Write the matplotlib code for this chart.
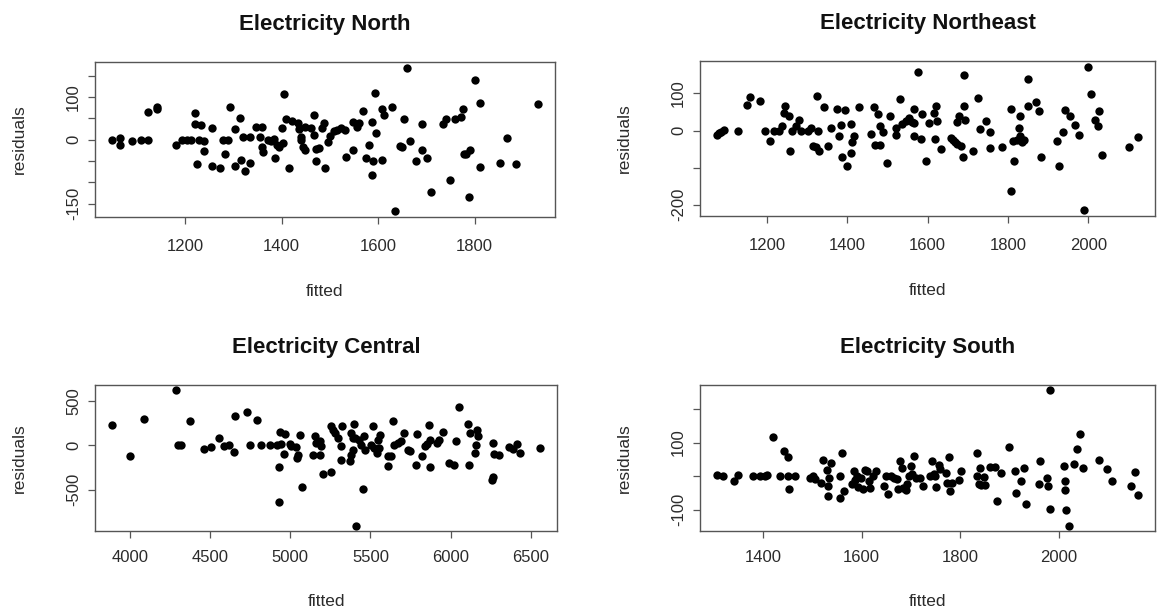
import matplotlib
matplotlib.use('Agg')
import matplotlib.pyplot as plt

plt.rcParams['font.family'] = ['Liberation Sans', 'DejaVu Sans']

# Electricity North
north_fitted = [1049, 1065, 1065, 1090, 1109, 1124, 1124, 1142, 1142, 1181, 1194, 1205, 1213, 1221, 1221,
                1225, 1229, 1234, 1240, 1240, 1256, 1256, 1273, 1279, 1283, 1290, 1293, 1304, 1304, 1315,
                1316, 1320, 1324, 1335, 1335, 1348, 1356, 1360, 1360, 1362, 1371, 1379, 1385, 1386, 1390,
                1394, 1400, 1404, 1406, 1410, 1415, 1421, 1434, 1437, 1441, 1441, 1445, 1449, 1449, 1460,
                1467, 1468, 1472, 1472, 1477, 1483, 1487, 1491, 1497, 1500, 1509, 1514, 1524, 1532, 1534,
                1549, 1549, 1557, 1561, 1568, 1575, 1582, 1588, 1588, 1590, 1594, 1595, 1607, 1608, 1612,
                1629, 1634, 1646, 1649, 1653, 1659, 1665, 1678, 1690, 1690, 1702, 1709, 1734, 1740, 1748,
                1759, 1771, 1775, 1777, 1781, 1790, 1788, 1800, 1810, 1810, 1852, 1867, 1886, 1931]
north_resid = [0, 5, -13, -3, 0, 0, 66, 77, 72, -13, 0, 0, 0, 63, 36,
               -56, 0, 34, -2, -27, 27, -62, -66, 0, -33, 0, 77, 26, -62, 52,
               -48, 6, -73, 6, -54, 30, 6, 30, -17, -29, 0, -2, 2, -43, -13,
               -17, 28, -7, 108, 49, -66, 45, 40, 24, 6, 0, -17, 30, -23, 28,
               59, 10, -50, -21, -20, 28, 39, -66, -5, 8, 20, 23, 28, 23, -41,
               -25, 41, 30, 39, 67, -42, -13, 41, -82, -50, 109, 16, -48, 73, 59,
               77, -168, -15, -16, 48, 169, -3, -51, 37, -25, -43, -123, 37, 49, -94,
               49, 53, 72, -34, -33, -25, -134, 141, 86, -64, -55, 4, -56, 84]

# Electricity Northeast
northeast_fitted = [1075, 1081, 1086, 1093, 1127, 1151, 1157, 1182, 1194, 1207, 1218, 1230, 1238, 1245, 1242,
                    1254, 1258, 1261, 1272, 1279, 1285, 1303, 1310, 1314, 1323, 1325, 1327, 1330, 1343, 1352,
                    1359, 1373, 1379, 1384, 1386, 1395, 1400, 1410, 1410, 1412, 1417, 1428, 1458, 1466, 1469,
                    1476, 1482, 1482, 1489, 1498, 1506, 1521, 1522, 1531, 1537, 1546, 1554, 1561, 1565, 1567,
                    1565, 1576, 1583, 1587, 1597, 1603, 1615, 1619, 1620, 1623, 1634, 1658, 1664, 1668, 1674,
                    1674, 1677, 1682, 1687, 1691, 1691, 1693, 1712, 1724, 1731, 1745, 1754, 1755, 1785, 1807,
                    1807, 1813, 1815, 1822, 1827, 1830, 1831, 1834, 1839, 1849, 1849, 1870, 1876, 1881, 1921,
                    1927, 1936, 1942, 1954, 1968, 1977, 1988, 2000, 2006, 2017, 2024, 2027, 2035, 2100, 2124]
northeast_resid = [-12, -7, -3, 2, 0, 69, 90, 80, 0, -27, 0, 0, 13, 66, 47,
                   40, -54, 0, 13, 29, 0, 0, 6, -41, -45, 94, 0, -54, 64, -41,
                   8, 58, -16, 15, -72, 56, -95, 18, -61, -31, -16, 64, -9, 63, -38,
                   45, 13, -38, -5, -88, 39, 6, -12, 85, 17, 26, 33, 24, 20, -16,
                   58, 157, -22, 44, -81, 20, 48, -22, 67, 26, -50, -21, -25, -30, 24,
                   -37, 38, -43, -72, 66, 150, 29, -54, 87, 4, 26, -47, -5, -45, 58,
                   -162, -27, -81, -25, 8, 39, -16, -31, -25, 139, 66, 78, 53, -72, -27,
                   -95, -5, 56, 38, 15, -12, -215, 172, 98, 29, 11, 53, -65, -45, -18]

# Electricity Central
central_fitted = [3890, 4000, 4091, 4290, 4299, 4320, 4373, 4461, 4508, 4554, 4585, 4620, 4651, 4658, 4730,
                  4747, 4793, 4817, 4876, 4917, 4927, 4927, 4934, 4969, 4944, 4963, 5000, 5006,
                  5060, 5039, 5050, 5045, 5076, 5153, 5163, 5184, 5194, 5143, 5184, 5205, 5256, 5256,
                  5267, 5277, 5298, 5322, 5318, 5314, 5370, 5380, 5391, 5395, 5376, 5391, 5411, 5452,
                  5401, 5426, 5442, 5459, 5467, 5514, 5504, 5525, 5541, 5550, 5562, 5556, 5607, 5628,
                  5612, 5638, 5649, 5669, 5707, 5690, 5731, 5748, 5789, 5783, 5824, 5839, 5855, 5862,
                  5872, 5872, 5913, 5930, 5955, 5992, 6021, 6031, 6054, 6109, 6116, 6120, 6161, 6172,
                  6157, 6150, 6264, 6269, 6258, 6264, 6300, 6366, 6389, 6412, 6431, 6556]
central_resid = [233, -124, 301, 620, 0, 0, 271, -38, -23, 83, -11, 0, -79, 327, 376,
                 0, 289, 0, 0, 0, -244, -639, 150, 132, 15, -98, 15, -11,
                 120, -19, -105, -143, -470, 102, 26, 45, -11, -105, -105, -320, -305, 214,
                 177, 139, 83, 214, -11, -169, -180, -105, -49, 244, 139, 83, -906, -492,
                 83, 64, 8, 102, -49, 222, 8, -30, -86, 64, 120, -30, -117, -117,
                 -229, 271, 8, 26, 139, 45, -49, -68, 132, -218, -117, -11, 19, 233,
                 -244, 64, 26, 56, 147, -199, -218, 45, 432, 244, -218, 139, 177, 102,
                 8, -86, 26, -94, -395, -361, -105, -23, -42, 19, -87, -30]

# Electricity South
south_fitted = [1307, 1320, 1342, 1350, 1381, 1394, 1404, 1409, 1420, 1434, 1442, 1451, 1452, 1454, 1465,
                1495, 1502, 1505, 1518, 1522, 1531, 1533, 1535, 1538, 1533, 1557, 1557, 1560, 1564, 1580,
                1584, 1587, 1591, 1593, 1598, 1602, 1607, 1611, 1615, 1618, 1624, 1629, 1646, 1649, 1654,
                1660, 1666, 1671, 1673, 1678, 1682, 1683, 1689, 1692, 1696, 1700, 1702, 1707, 1711, 1718,
                1724, 1739, 1742, 1746, 1749, 1751, 1756, 1758, 1771, 1773, 1778, 1780, 1784, 1798, 1802,
                1833, 1833, 1837, 1840, 1842, 1848, 1850, 1860, 1871, 1875, 1882, 1898, 1911, 1913, 1922,
                1928, 1932, 1959, 1961, 1975, 1977, 1981, 1982, 2009, 2011, 2012, 2013, 2020, 2030, 2036,
                2043, 2048, 2080, 2097, 2107, 2146, 2153, 2160]
south_resid = [2, 0, -15, 2, 0, 0, 0, 2, 116, 0, 75, 58, 0, -37, 0,
               -4, 0, -7, -19, 48, 18, -30, -4, 40, -60, 0, -64, 68, -44, -22,
               16, -12, 0, -32, -4, -37, 18, 16, -15, -35, 0, 15, -30, 0, -54,
               0, -5, -7, -37, 46, 23, -35, -40, -22, 0, 30, 6, 61, -5, -5,
               -30, 0, 46, 6, 0, -32, 33, 20, 10, -19, 58, -44, -20, -10, 15,
               70, 0, -22, 23, -27, -2, -27, 28, 28, -74, 8, 86, 16, -49, -15,
               23, -84, -22, 46, -4, -30, -97, 255, 30, -14, -40, -102, -147, 36, 81,
               126, 23, 48, 20, -14, -29, 11, -57]

W, H = 1162, 612
fig = plt.figure(figsize=(W / 100, H / 100), dpi=100)

# (title, x, y, box in pixels [left, top, right, bottom], xticks, yticks, labelled yticks, x tick pad, xlabel offset)
panels = [
    ("Electricity North", north_fitted, north_resid, (95, 62, 555, 217),
     [1200, 1400, 1600, 1800], [-150, -100, -50, 0, 50, 100, 150], [-150, 0, 100], 11, 67),
    ("Electricity Northeast", northeast_fitted, northeast_resid, (700, 61, 1155, 216),
     [1200, 1400, 1600, 1800, 2000], [-200, -100, 0, 100], [-200, 0, 100], 11, 67),
    ("Electricity Central", central_fitted, central_resid, (95, 385, 557, 531),
     [4000, 4500, 5000, 5500, 6000, 6500], [-500, 0, 500], [-500, 0, 500], 8.5, 63),
    ("Electricity South", south_fitted, south_resid, (700, 385, 1155, 531),
     [1400, 1600, 1800, 2000], [-100, 0, 100, 200], [-100, 100], 8.5, 63),
]

txt = '#2b2b2b'
for title, xs, ys, box, xt, yt, ylab, xpad, xlab_off in panels:
    l, t, r, b = box
    ax = fig.add_axes([l / W, 1 - b / H, (r - l) / W, (b - t) / H])
    ax.scatter(xs, ys, s=36, color='black', linewidths=0)
    ax.margins(x=0.04, y=0.04)
    ax.set_xticks(xt)
    ax.set_yticks(yt)
    ax.set_yticklabels([str(v) if v in ylab else '' for v in yt], rotation=90, va='center')
    ax.tick_params(direction='out', length=5, width=0.9, color='#555555',
                   labelsize=12, labelcolor=txt)
    ax.tick_params(axis='x', pad=xpad)
    ax.tick_params(axis='y', pad=5)
    for sp in ax.spines.values():
        sp.set_color('#555555')
        sp.set_linewidth(1.0)
    ax.set_title(title, fontsize=16, fontweight='bold', color='#111111', pad=23)
    ax.set_xlabel('fitted', fontsize=12.5, color=txt)
    ax.set_ylabel('residuals', fontsize=12.5, color=txt)
    ax.xaxis.set_label_coords(0.5, -xlab_off / (b - t))
    ax.yaxis.set_label_coords(-68 / (r - l), 0.5)

fig.savefig('out.png', dpi=100)
